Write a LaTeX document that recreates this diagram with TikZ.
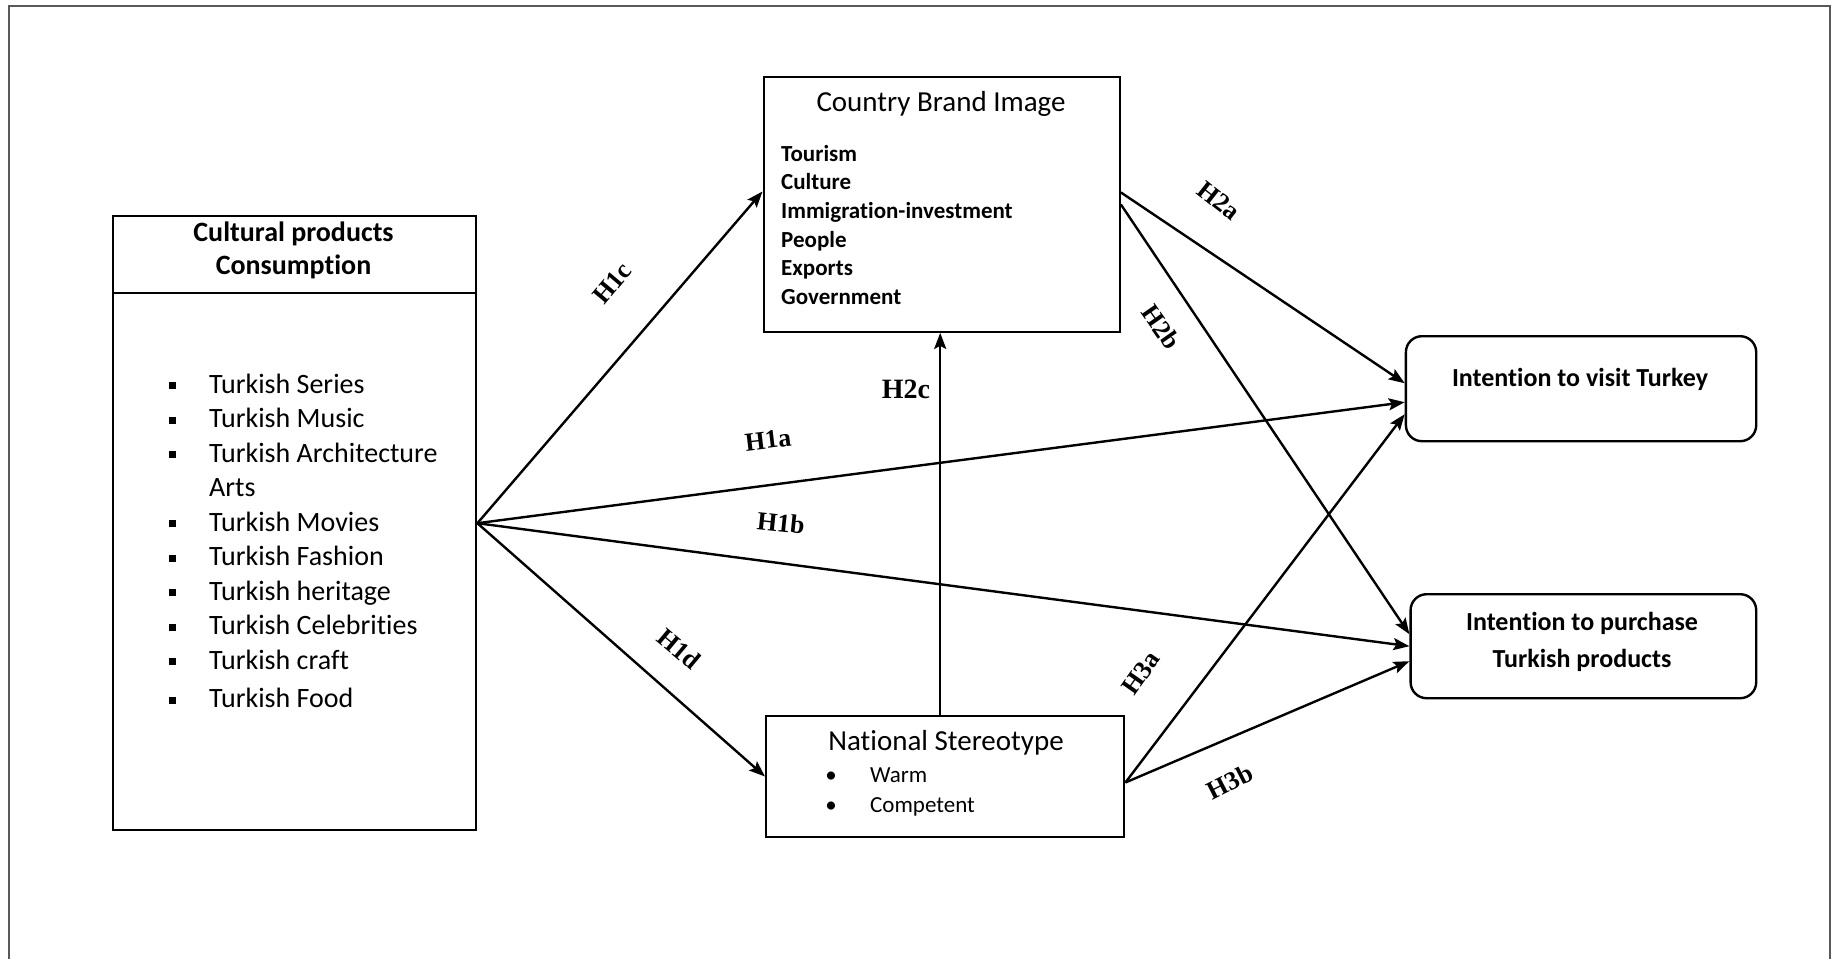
\documentclass[tikz,border=0pt]{standalone}
\usepackage{fontspec}
\setmainfont{Carlito}[Ligatures=NoCommon]
\newfontfamily\hypfont{Liberation Serif}
\usetikzlibrary{arrows.meta,calc}

\newcommand{\sqbullet}{\makebox[7pt][c]{\rule[4pt]{7pt}{7pt}}}
\newcommand{\dotbullet}{\makebox[8pt][c]{\textbullet}}

\begin{document}
\begin{tikzpicture}[x=1pt,y=-1pt,
  box/.style={draw, line width=2.4pt, inner sep=0pt},
  rbox/.style={draw, line width=2.4pt, rounded corners=16pt, inner sep=0pt},
  btext/.style={inner sep=0pt, align=center, font=\fontsize{26}{36.5}\selectfont\bfseries},
  title/.style={inner sep=0pt, font=\fontsize{29}{29}\selectfont},
  link/.style={line width=2.4pt, -{Stealth[length=16pt,width=12pt,inset=3pt]}},
  hyp/.style={inner sep=0pt, font=\hypfont\bfseries\fontsize{26}{26}\selectfont},
  hypbig/.style={inner sep=0pt, font=\hypfont\bfseries\fontsize{28}{28}\selectfont},
]
\useasboundingbox (0,0) rectangle (1831,959);

% open page frame
\draw[line width=2.4pt, draw=black!65] (9,959) -- (9,6) -- (1830,6) -- (1830,959);

% cultural products box
\node[box, anchor=north west, minimum width=363pt, minimum height=614pt] (cpc) at (112,215) {};
\coordinate (hdr) at (0,293);
\draw[line width=2.4pt] (cpc.west |- hdr) -- (cpc.east |- hdr);
\node[inner sep=0pt, align=center, font=\bfseries\fontsize{28}{33.5}\selectfont] (cpchead) at (293.5,250.5)
  {Cultural products\\Consumption};
\node[anchor=base west, inner sep=0pt, font=\fontsize{28}{34.5}\selectfont] (cpclist) at (169,393)
  {\begin{tabular}[t]{@{}l@{\hspace{33pt}}l@{}}
   \sqbullet & Turkish Series\\
   \sqbullet & Turkish Music\\
   \sqbullet & Turkish Architecture\\
             & Arts\\
   \sqbullet & Turkish Movies\\
   \sqbullet & Turkish Fashion\\
   \sqbullet & Turkish heritage\\
   \sqbullet & Turkish Celebrities\\
   \sqbullet & Turkish craft\\[4pt]
   \sqbullet & Turkish Food
   \end{tabular}};

% country brand image box
\node[box, anchor=north west, minimum width=356pt, minimum height=254.5pt] (cbi) at (762.5,76) {};
\node[title] (cbititle) at (941,104) {Country Brand Image};
\node[anchor=base west, inner sep=0pt, font=\bfseries\fontsize{23}{28.7}\selectfont] (cbilist) at (781,161)
  {\begin{tabular}[t]{@{}l@{}}
   Tourism\\ Culture\\ Immigration-investment\\ People\\ Exports\\ Government
   \end{tabular}};

% national stereotype box
\node[box, anchor=north west, minimum width=358pt, minimum height=121.4pt] (ns) at (765,714.6) {};
\node[title] (nstitle) at (946,742.7) {National Stereotype};
\node[anchor=base west, inner sep=0pt, font=\fontsize{23}{29.5}\selectfont] (nslist) at (827,782.5)
  {\begin{tabular}[t]{@{}l@{\hspace{35pt}}l@{}}
   \dotbullet & Warm\\
   \dotbullet & Competent
   \end{tabular}};

% outcome boxes
\node[rbox, anchor=north west, minimum width=350.3pt, minimum height=105pt] (vb) at (1404.7,335) {};
\node[btext] (vbtext) at (1580,379.5) {Intention to visit Turkey};
\node[rbox, anchor=north west, minimum width=345.6pt, minimum height=104pt] (pb) at (1409.4,593) {};
\node[btext] (pbtext) at (1582,642) {Intention to purchase\\Turkish products};

% hypothesised paths
\draw[link] (cpc.east) -- ([yshift=13pt]cbi.west);
\draw[link] (cpc.east) -- ([yshift=-13.5pt]vb.west);
\draw[link] (cpc.east) -- (pb.west);
\draw[link] (cpc.east) -- (ns.west);
\coordinate (h2cfoot) at ([xshift=-5pt]ns.north);
\draw[link] (h2cfoot) -- (h2cfoot |- cbi.south);
\draw[link] ([yshift=12pt]cbi.east) -- ([yshift=5.5pt]vb.west);
\draw[link] (cbi.east) -- ([yshift=12pt]pb.west);
\draw[link] ([yshift=-6pt]ns.east) -- ([yshift=-25.5pt]vb.west);
\draw[link] ([yshift=-6pt]ns.east) -- ([yshift=-15pt]pb.west);

% path labels
\node[hyp, rotate=50] (lh1c) at (612,283) {H1c};
\node[hyp, rotate=7] (lh1a) at (768,440) {H1a};
\node[hyp, rotate=-6] (lh1b) at (781,523) {H1b};
\node[hyp, rotate=-40] (lh1d) at (679,649) {H1d};
\node[hypbig] (lh2c) at (906,389) {H2c};
\node[hyp, rotate=-38] (lh2a) at (1219,201) {H2a};
\node[hyp, rotate=-55] (lh2b) at (1161,327) {H2b};
\node[hyp, rotate=55] (lh3a) at (1141,673) {H3a};
\node[hyp, rotate=27] (lh3b) at (1230,782) {H3b};
\end{tikzpicture}
\end{document}
